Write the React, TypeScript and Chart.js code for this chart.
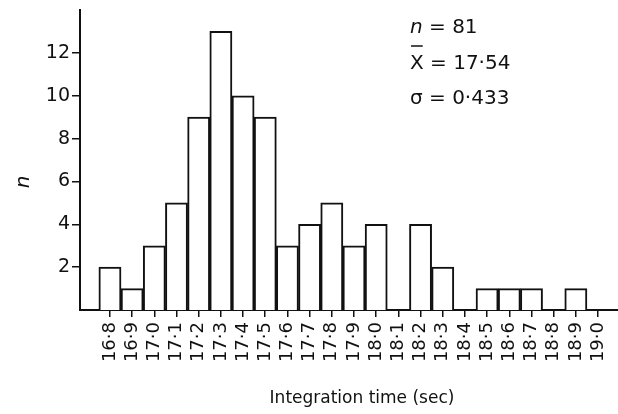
import { useEffect, useRef } from "react";
import { Chart, registerables } from "chart.js";

Chart.register(...registerables);

// Bin centres (sec) and how many runs fell into each bin
const binCentres = [
  16.8, 16.9, 17.0, 17.1, 17.2, 17.3, 17.4, 17.5, 17.6, 17.7, 17.8, 17.9,
  18.0, 18.1, 18.2, 18.3, 18.4, 18.5, 18.6, 18.7, 18.8, 18.9, 19.0,
];
const binLabels = [
  "16·8", "16·9", "17·0", "17·1", "17·2", "17·3", "17·4", "17·5", "17·6",
  "17·7", "17·8", "17·9", "18·0", "18·1", "18·2", "18·3", "18·4", "18·5",
  "18·6", "18·7", "18·8", "18·9", "19·0",
];
const counts = [2, 1, 3, 5, 9, 13, 10, 9, 3, 4, 5, 3, 4, 0, 4, 2, 0, 1, 1, 1, 0, 1, 0];
const yTicks = [2, 4, 6, 8, 10, 12];

// Summary statistics printed in the corner
const sampleSize = "81";
const meanText = "17·54";
const sdText = "0·433";

const ink = "#111";
const face = "'DejaVu Sans', sans-serif";

const captions = {
  id: "captions",
  afterDraw(chart: any) {
    const ctx: CanvasRenderingContext2D = chart.ctx;
    ctx.save();
    ctx.fillStyle = ink;
    ctx.strokeStyle = ink;
    ctx.textBaseline = "alphabetic";
    ctx.textAlign = "left";

    // y-axis caption
    ctx.save();
    ctx.translate(24, 182);
    ctx.rotate(-Math.PI / 2);
    ctx.font = `italic 20px ${face}`;
    ctx.textAlign = "center";
    ctx.textBaseline = "middle";
    ctx.fillText("n", 0, 0);
    ctx.restore();

    // x-axis caption
    ctx.font = `17px ${face}`;
    ctx.textAlign = "center";
    ctx.fillText("Integration time (sec)", 362, 403);

    // statistics block
    ctx.textAlign = "left";
    const x0 = 410;
    ctx.font = `italic 20px ${face}`;
    ctx.fillText("n", x0, 33);
    let w = ctx.measureText("n").width;
    ctx.font = `20px ${face}`;
    ctx.fillText(" = " + sampleSize, x0 + w, 33);

    ctx.fillText("X", x0, 69);
    w = ctx.measureText("X").width;
    ctx.lineWidth = 1.5;
    ctx.beginPath();
    ctx.moveTo(x0 + 1, 46);
    ctx.lineTo(x0 + w - 1, 46);
    ctx.stroke();
    ctx.fillText(" = " + meanText, x0 + w, 69);

    ctx.fillText("σ", x0, 104);
    w = ctx.measureText("σ").width;
    ctx.fillText(" = " + sdText, x0 + w, 104);

    ctx.restore();
  },
};

export default function App() {
  const canvasRef = useRef<HTMLCanvasElement | null>(null);

  useEffect(() => {
    if (!canvasRef.current) return;
    const chart = new Chart(canvasRef.current, {
      type: "bar",
      data: {
        datasets: [
          {
            data: binCentres.map((x, i) => ({ x, y: counts[i] })),
            backgroundColor: "#fff",
            borderColor: ink,
            borderWidth: 2,
            barPercentage: 1,
            categoryPercentage: 1,
          },
        ],
      },
      options: {
        animation: false,
        responsive: true,
        maintainAspectRatio: false,
        layout: { padding: { top: 10, right: 0, left: 0, bottom: 0 } },
        plugins: {
          legend: { display: false },
          tooltip: { enabled: false },
        },
        scales: {
          x: {
            type: "linear",
            offset: false,
            min: 16.665,
            max: 19.09,
            afterBuildTicks: (scale: any) => {
              scale.ticks = binCentres.map((v) => ({ value: v }));
            },
            afterFit: (scale: any) => {
              scale.height = 104;
              scale.paddingLeft = 0;
              scale.paddingRight = 0;
            },
            ticks: {
              autoSkip: false,
              minRotation: 90,
              maxRotation: 90,
              padding: 5,
              color: ink,
              font: { family: face, size: 18 },
              callback: (_v: any, i: number) => binLabels[i],
            },
            grid: {
              offset: false,
              drawOnChartArea: false,
              drawTicks: true,
              tickLength: 7,
              color: ink,
              lineWidth: 1.5,
            },
            border: { display: true, color: ink, width: 2 },
          },
          y: {
            min: 0,
            max: 14,
            afterBuildTicks: (scale: any) => {
              scale.ticks = yTicks.map((v) => ({ value: v }));
            },
            afterFit: (scale: any) => {
              scale.width = 80;
              scale.paddingTop = 0;
              scale.paddingBottom = 0;
            },
            ticks: {
              padding: 2,
              color: ink,
              font: { family: face, size: 19 },
            },
            grid: {
              drawOnChartArea: false,
              drawTicks: true,
              tickLength: 8,
              color: ink,
              lineWidth: 1.5,
            },
            border: { display: true, color: ink, width: 2 },
          },
        },
      },
      plugins: [captions],
    });
    return () => chart.destroy();
  }, []);

  return (
    <div style={{ position: "fixed", left: 0, top: 0, width: 618, height: 414, background: "#fff" }}>
      <canvas ref={canvasRef} />
    </div>
  );
}
